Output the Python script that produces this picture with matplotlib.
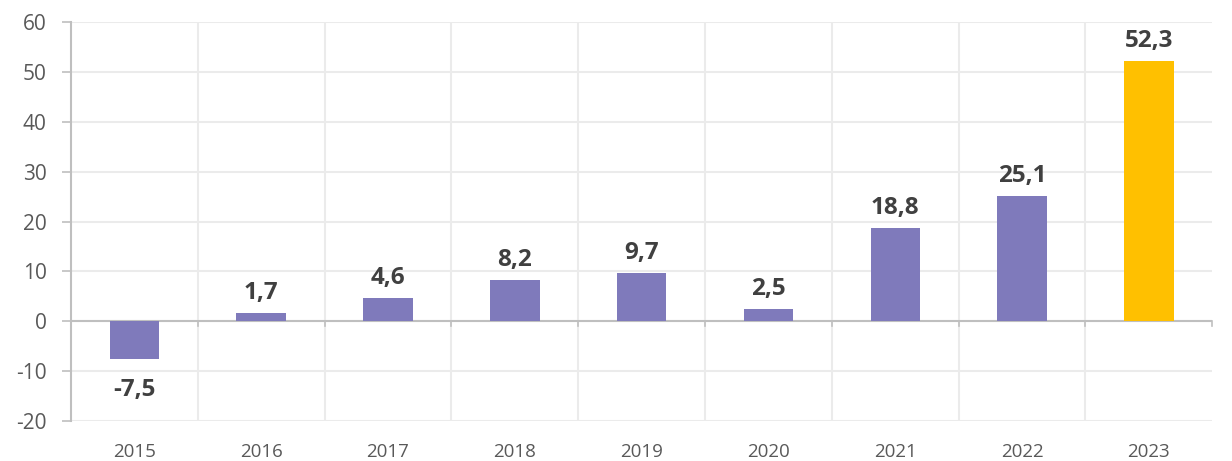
import numpy as np
import matplotlib.pyplot as plt

years = ['2015', '2016', '2017', '2018', '2019', '2020', '2021', '2022', '2023']
values = [-7.5, 1.7, 4.6, 8.2, 9.7, 2.5, 18.8, 25.1, 52.3]
yticks = [-20, -10, 0, 10, 20, 30, 40, 50, 60]

plt.rcParams['font.family'] = ['Open Sans', 'DejaVu Sans']

purple = '#7F7ABB'
gold = '#FFC000'
colors = [purple] * 8 + [gold]

fig = plt.figure(figsize=(12.32, 4.61), dpi=100)
ax = fig.add_axes([0.0576, 0.0868, 0.984 - 0.0576, 0.952 - 0.0868])

x = np.arange(len(years))
ax.bar(x, values, width=0.39, color=colors, zorder=3)

for xi, v in zip(x, values):
    lbl = f'{v:.1f}'.replace('.', ',')
    off = 10 if v >= 0 else -27
    ax.annotate(lbl, (xi, v), xytext=(0, off), textcoords='offset points',
                ha='center', va='baseline', fontsize=17.5, fontweight='bold',
                color='#404040')

ax.set_xlim(-0.5, len(years) - 0.5)
ax.set_ylim(-20, 60)
ax.set_yticks(yticks)
ax.set_yticklabels([str(t) for t in yticks])
ax.tick_params(axis='y', labelsize=15, labelcolor='#595959', color='#BFBFBF',
               length=6.5, width=1.2, pad=11)

# grid
ax.yaxis.grid(True, color='#EBEBEB', linewidth=1.5, zorder=0)
for b in np.arange(0.5, len(years) - 0.5, 1):
    ax.axvline(b, color='#EBEBEB', linewidth=1.5, zorder=0)

# x axis at zero with boundary ticks
ax.axhline(0, color='#BFBFBF', linewidth=1.5, zorder=2)
ax.set_xticks(x)
ax.set_xticklabels(years)
ax.tick_params(axis='x', length=0, labelsize=13.5, labelcolor='#595959', pad=16)
for b in np.arange(-0.5, len(years) + 0.5, 1):
    ax.plot([b, b], [0, -1.0], color='#BFBFBF', linewidth=1.2, zorder=2,
            clip_on=False)

for s in ['top', 'right', 'bottom']:
    ax.spines[s].set_visible(False)
ax.spines['left'].set_color('#BFBFBF')
ax.spines['left'].set_linewidth(1.5)

fig.savefig('out.png', dpi=100)
